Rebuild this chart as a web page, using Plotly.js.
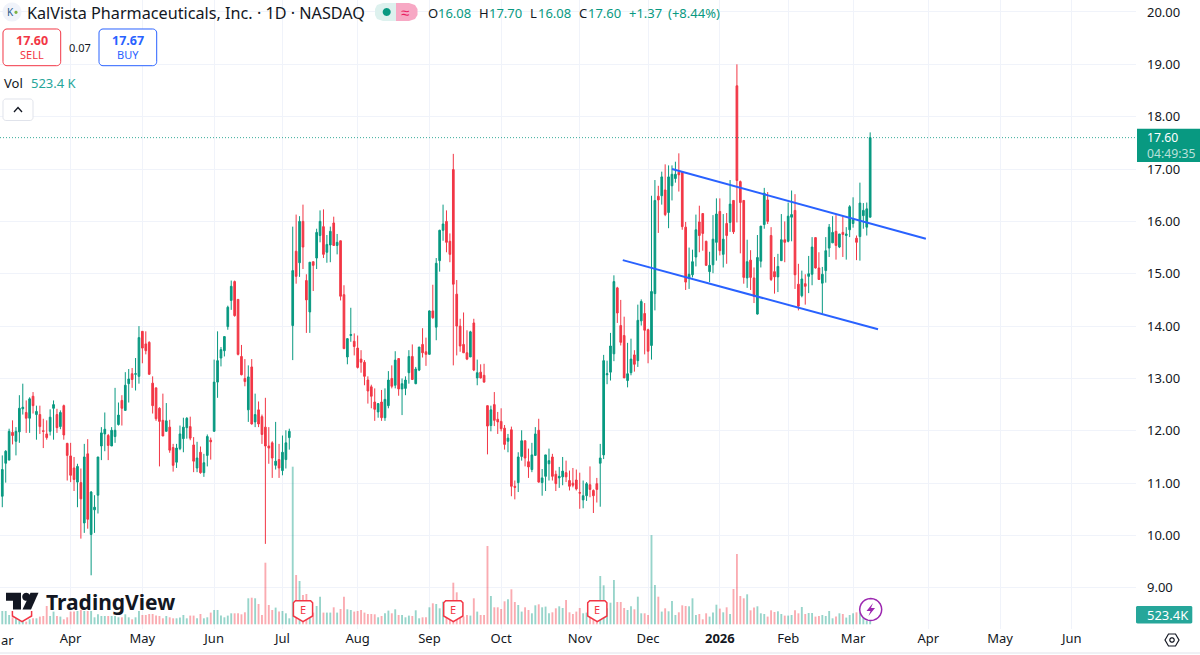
<!DOCTYPE html>
<html><head><meta charset="utf-8">
<script src="https://cdn.plot.ly/plotly-3.0.1.min.js"></script>
<style>html,body{margin:0;padding:0;background:#fff}#c{width:1200px;height:655px}</style>
</head><body><div id="c"></div>
<script>
const openP=[10.75,11.38,11.44,11.97,11.80,11.98,12.42,12.35,12.24,12.66,
12.31,12.31,12.00,11.94,11.99,12.43,12.31,12.08,12.48,11.76,
11.52,11.29,11.02,11.01,10.24,11.56,10.02,10.49,10.77,11.71,
11.94,11.91,11.71,11.89,12.12,12.58,12.39,12.90,13.09,13.08,
13.04,13.90,13.66,13.69,12.91,12.82,12.43,12.20,11.99,12.07,
11.68,11.40,11.66,11.85,12.06,12.08,11.73,11.29,11.59,11.20,
11.53,11.82,11.99,12.93,13.39,13.53,13.99,14.49,14.85,14.51,
13.42,13.00,12.40,13.22,12.17,12.40,12.27,12.07,11.71,11.77,
11.34,11.45,11.24,11.45,11.87,14.01,15.43,15.21,16.00,14.87,
14.27,15.23,15.30,15.73,15.90,15.41,15.55,15.97,15.54,15.63,
14.60,13.41,13.82,13.71,13.58,13.37,13.31,12.97,12.84,12.55,
12.36,12.55,12.25,12.48,13.00,12.87,13.38,12.80,12.81,13.11,
13.42,12.90,13.16,13.65,13.51,13.46,14.29,13.98,15.25,15.83,
16.00,15.62,16.99,14.61,14.00,13.65,13.49,13.41,14.06,13.01,
13.12,13.06,12.48,12.10,12.50,12.22,12.18,12.05,11.80,12.02,
10.94,11.01,11.51,11.81,11.41,11.26,11.53,12.01,11.01,11.13,
11.37,11.50,11.17,11.10,11.12,11.20,11.05,11.00,11.06,10.82,
10.68,10.76,10.97,10.86,10.99,11.38,11.54,13.07,13.12,13.47,
14.73,14.01,13.82,12.96,13.11,13.45,13.34,14.10,14.24,13.93,
13.63,14.62,16.48,16.49,16.60,16.17,16.68,16.82,16.94,16.94,
15.89,14.92,14.98,15.32,15.99,16.15,15.62,15.04,15.17,15.60,
16.19,15.37,15.96,15.98,16.40,18.59,16.76,16.40,14.92,15.26,
14.92,14.23,15.24,15.94,16.41,15.73,15.04,14.94,15.25,15.65,
15.62,16.08,16.21,14.80,14.58,14.81,14.95,14.99,15.69,15.11,
14.82,15.06,15.49,15.59,15.81,15.51,15.79,15.73,15.84,15.96,
15.68,15.71,16.11,15.89,16.08];
const highP=[11.53,11.63,12.04,12.20,12.07,12.68,12.90,12.58,12.64,12.74,
12.48,12.48,12.23,12.20,12.41,12.58,12.42,12.39,12.50,11.77,
11.77,11.50,11.37,11.28,11.75,11.84,10.85,10.77,11.50,12.07,
12.35,11.94,12.07,12.82,12.54,12.68,13.12,13.18,13.20,13.39,
14.00,13.90,13.90,13.71,13.04,12.82,12.45,12.71,12.53,12.21,
11.75,11.75,12.10,12.25,12.26,12.27,11.88,11.79,11.70,11.56,
11.93,11.87,13.36,13.90,13.60,13.80,14.39,14.87,14.87,14.51,
13.64,13.37,13.25,13.37,12.71,12.56,12.31,12.63,12.07,11.80,
12.17,11.75,11.91,12.01,12.04,15.90,16.13,16.10,16.32,14.99,
15.22,15.23,15.86,16.21,16.23,15.74,15.90,16.09,15.76,15.63,
14.78,13.77,14.35,13.86,13.82,13.54,13.35,13.04,12.88,12.81,
12.53,12.78,12.81,13.14,13.25,13.52,13.38,13.00,13.04,13.54,
13.65,13.22,13.60,13.96,13.78,14.30,14.79,15.30,15.84,16.32,
16.21,15.77,17.29,14.88,14.14,14.26,13.92,13.91,14.14,13.36,
13.27,13.28,12.48,12.48,12.74,12.36,12.43,12.11,11.94,12.08,
11.05,11.59,12.01,11.81,11.66,11.77,12.07,12.23,11.27,11.54,
11.66,11.56,11.24,11.31,11.50,11.43,11.24,11.29,11.26,11.20,
11.05,11.02,11.32,10.88,11.10,11.75,13.45,13.34,13.87,14.97,
14.75,14.50,14.18,13.68,13.76,13.54,14.41,14.51,14.44,13.95,
16.49,16.79,16.68,16.95,17.09,17.07,17.07,17.14,17.30,16.95,
15.99,15.50,15.46,16.13,16.30,16.15,15.63,15.42,16.12,16.44,
16.44,16.14,16.16,16.79,16.40,19.00,16.78,16.40,15.65,15.45,
15.12,15.74,15.91,16.64,16.56,15.89,15.32,15.38,16.14,16.00,
16.36,16.59,16.52,15.19,15.06,14.99,15.34,15.70,15.69,15.41,
15.13,15.70,15.95,16.10,16.12,15.76,16.09,15.89,16.31,16.46,
15.73,16.74,16.35,16.36,17.70];
const lowP=[10.54,11.01,11.44,11.74,11.53,11.77,12.31,11.96,11.96,12.33,
11.83,11.94,11.67,11.83,11.91,11.83,11.96,12.03,11.83,11.05,
11.02,10.85,10.54,9.94,10.05,10.13,9.24,10.05,10.42,11.44,
11.61,11.44,11.71,11.77,12.10,12.10,12.39,12.54,12.82,12.77,
12.90,13.29,13.46,13.07,12.33,12.19,11.32,11.90,11.99,11.58,
11.22,11.29,11.63,11.59,11.85,11.82,11.21,11.21,11.18,11.12,
11.32,11.45,11.99,12.63,13.23,13.42,13.93,14.31,14.18,13.44,
13.06,12.85,12.17,12.12,12.07,12.07,11.75,9.84,11.37,11.10,
11.26,11.10,11.15,11.28,11.64,13.35,14.81,14.94,15.09,13.87,
13.87,14.67,15.09,15.60,15.30,15.21,15.22,15.53,15.37,14.49,
13.56,13.27,13.70,13.44,13.19,13.11,12.87,12.52,12.43,12.19,
12.25,12.19,12.19,12.43,12.81,12.81,12.67,12.30,12.68,12.90,
12.97,12.89,13.14,13.40,13.24,13.46,14.14,13.73,15.04,15.63,
15.41,15.22,13.25,13.44,13.51,13.49,13.35,13.41,13.14,12.87,
13.00,12.92,11.55,11.99,12.09,11.94,11.99,11.64,11.59,10.75,
10.69,10.83,11.43,11.32,11.10,11.21,11.53,11.01,10.76,10.85,
11.05,11.05,10.85,10.91,10.96,11.02,10.86,10.92,10.86,10.51,
10.52,10.66,10.73,10.43,10.63,10.55,11.46,12.89,12.96,13.33,
14.06,13.63,13.01,12.83,13.06,13.13,13.22,14.01,13.46,13.29,
13.36,14.30,15.78,16.32,16.10,15.87,16.40,16.74,16.57,15.84,
14.69,14.71,14.93,15.14,15.41,15.44,15.16,14.84,15.01,15.25,
15.35,15.12,15.19,15.80,15.76,15.98,15.39,14.81,14.73,14.69,
14.44,14.22,15.12,15.86,15.95,14.86,14.62,14.65,15.25,15.22,
15.60,15.62,14.71,14.30,14.55,14.41,14.63,14.78,15.10,14.89,
14.24,14.83,15.32,15.59,15.27,15.49,15.32,15.27,15.70,15.88,
15.26,15.25,15.86,15.73,16.08];
const closeP=[11.26,11.61,11.99,11.91,11.99,12.43,12.45,12.24,12.61,12.48,
12.37,12.08,11.99,11.87,12.26,12.50,12.06,12.35,11.92,11.53,
11.15,11.07,11.32,10.70,11.50,10.31,10.83,10.54,11.50,11.96,
12.03,11.72,12.01,12.01,12.30,12.43,12.87,12.99,12.98,13.09,
13.78,13.58,13.53,13.08,12.48,12.23,12.18,11.90,12.19,11.63,
11.34,11.67,11.94,12.07,12.24,11.86,11.42,11.48,11.20,11.39,
11.89,11.79,12.93,13.34,13.55,13.80,14.36,14.76,14.20,13.46,
13.07,12.94,13.03,12.13,12.31,12.13,11.93,11.71,11.67,11.48,
11.42,11.29,11.59,11.77,11.99,15.06,14.95,16.00,15.51,14.50,
15.22,15.16,15.79,16.00,15.37,15.56,15.81,15.54,15.60,14.57,
13.57,13.76,13.84,13.61,13.21,13.31,13.04,12.76,12.66,12.41,
12.52,12.25,12.60,12.97,12.85,13.35,12.80,12.90,12.97,13.42,
12.98,13.18,13.60,13.49,13.46,14.29,14.16,15.20,15.83,15.95,
15.60,15.37,14.80,14.00,13.62,13.49,13.37,13.89,13.16,13.11,
13.01,12.93,12.09,12.40,12.20,12.17,12.04,11.74,11.86,10.94,
10.92,11.50,11.81,11.48,11.31,11.54,11.94,11.02,11.10,11.54,
11.43,11.13,10.99,11.13,11.23,11.12,10.94,10.96,10.89,10.81,
10.76,10.99,10.88,10.76,10.88,11.48,13.34,13.09,13.62,14.85,
14.25,13.69,13.01,13.09,13.37,13.27,14.11,14.47,13.92,13.52,
14.66,16.40,16.41,16.85,16.13,16.85,16.90,16.90,16.89,15.90,
14.84,14.99,15.23,15.84,15.73,15.77,15.16,15.16,15.66,16.14,
15.44,15.66,15.73,16.33,15.80,16.78,16.36,14.93,15.23,14.93,
14.57,15.31,15.91,16.54,16.00,14.89,14.94,15.14,15.65,15.60,
16.10,16.13,14.98,14.38,14.90,14.76,15.00,15.51,15.11,14.89,
14.99,15.44,15.89,15.79,15.54,15.76,15.75,15.76,16.28,16.03,
15.60,16.35,16.21,16.24,17.60];
const volumeK=[1330,1330,930,700,600,370,370,270,500,600,
600,770,830,1830,830,1270,830,770,500,700,
1270,1270,1330,1430,1330,1330,1330,700,1000,830,
830,830,830,830,700,700,1000,700,500,700,
1330,930,930,1030,1030,870,830,600,830,700,
600,600,670,930,600,870,870,600,1030,600,
700,1170,1430,1430,870,700,870,1100,1100,1100,
1000,1200,2600,2660,2600,2030,930,6160,1930,1430,
1670,1270,1330,1100,600,15760,4930,4330,2930,3030,
700,1170,1830,2760,1170,1170,1170,1700,1170,1530,
2760,1500,1430,1270,1330,1430,1170,1030,1030,1000,
700,830,1100,1370,1100,1500,930,930,700,870,
830,1400,600,700,700,1700,2100,2030,1600,2260,
1770,1800,4160,3200,1600,770,930,870,2600,1270,
930,930,7830,2830,1700,1700,1530,2300,2500,3500,
2230,1930,1270,1700,1430,1100,1900,2000,1700,1770,
1100,1200,1600,1800,1630,2430,1200,1030,1270,1630,
1100,1170,700,500,430,4830,3900,1600,2160,4430,
2230,2230,1630,1430,1800,1500,2760,1100,1100,930,
8920,3930,2760,1270,1600,1300,2330,930,1200,1900,
1830,1800,2600,930,1030,500,1100,770,1170,1960,
1570,1200,1700,1030,3530,7030,2830,2600,3000,1400,
1670,1800,1100,1030,770,1400,1230,1300,1030,870,
870,930,1400,1100,1730,1030,1130,1130,770,830,
930,830,1330,600,770,1100,1030,670,930,1100,
1200,1170,700,370,523.4];
const tickIndex=[20,41,62,82,104,125,146,169,189,210,230,249,271,292,313];
const tickLabels=['Apr','May','Jun','Jul','Aug','Sep','Oct','Nov','Dec','<b>2026</b>','Feb','Mar','Apr','May','Jun'];
const priceTicks=[9,10,11,12,13,14,15,16,17,18,19,20];
const priceTickLabels=['9.00','10.00','11.00','12.00','13.00','14.00','15.00','16.00','17.00','18.00','19.00','20.00'];
const upperLineX=[196,270.3], upperLineY=[17.00,15.67];
const lowerLineX=[181.6,256.3], lowerLineY=[15.26,13.94];
const lastPrice=17.60;

const GREEN='#089981',RED='#F23645',BLUE='#2962FF',INK='#131722',GRID='#F0F3FA',FONT='"Noto Sans", sans-serif';
const PW=1136,PH=629;
const fx=x=>x/PW, fy=y=>1-y/PH;
const bars=openP.map((_,i)=>i);
const volColors=bars.map(i=>closeP[i]>=openP[i]?'rgba(8,153,129,0.42)':'rgba(242,54,69,0.42)');

function P(pts,close){return pts.map((p,i)=>(i?'L':'M')+fx(p[0]).toFixed(5)+','+fy(p[1]).toFixed(5)).join(' ')+(close?' Z':'');}
function shapePath(pts,fill,line,w,close=true){return {type:'path',xref:'paper',yref:'paper',layer:'above',path:P(pts,close),fillcolor:fill||'rgba(0,0,0,0)',line:{color:line||'rgba(0,0,0,0)',width:w||0}};}
function rr(x0,y0,x1,y1,r){const pts=[];const c=[[x1-r,y0+r,-90],[x1-r,y1-r,0],[x0+r,y1-r,90],[x0+r,y0+r,180]];
 c.forEach(k=>{for(let a=0;a<=90;a+=15){const t=(k[2]+a)*Math.PI/180;pts.push([k[0]+r*Math.cos(t),k[1]+r*Math.sin(t)]);}});return pts;}
function circle(cx,cy,r){const pts=[];for(let a=0;a<360;a+=15){const t=a*Math.PI/180;pts.push([cx+r*Math.cos(t),cy+r*Math.sin(t)]);}return pts;}
function T(text,x,y,size,color,anchor='left',extra={}){return Object.assign({xref:'paper',yref:'paper',x:fx(x),y:fy(y),text,showarrow:false,xanchor:anchor,yanchor:'middle',borderpad:0,font:{family:FONT,size,color}},extra);}
function eMark(cx){const t=600.7,s=616,b=621.7,h=9.6;return shapePath([[cx-h+2,t],[cx+h-2,t],[cx+h,t+2],[cx+h,s],[cx,b],[cx-h,s],[cx-h,t+2]],'#fff',RED,1.5);}

const shapes=[
 {type:'line',xref:'paper',yref:'y',x0:0,x1:1,y0:lastPrice,y1:lastPrice,line:{color:'rgba(8,153,129,0.8)',width:1,dash:'1px,2px'},layer:'above'},
 {type:'line',xref:'paper',yref:'paper',x0:0,x1:1200/PW,y0:fy(653),y1:fy(653),line:{color:'#E0E3EB',width:1},layer:'above'},
 shapePath(circle(12,12,9.5),'#F0F3FA'),
 shapePath(circle(16,12.3,1.6),'#7CB342'),
 shapePath([[375+8,3],[396,3],[396,21],[375+8,21],[377,19],[375,15],[375,9],[377,5]],'#DDF1EE'),
 shapePath([[396,3],[409,3],[415,5],[417.5,9],[417.5,15],[415,19],[409,21],[396,21]],'#F7A8C4'),
 shapePath(circle(386.7,12,4),GREEN),
 shapePath(rr(3,29,60.7,65.7,4),'#fff',RED,1),
 shapePath(rr(99,29,156.7,65.7,4),'#fff',BLUE,1),
 shapePath(rr(3,99,33,120.5,3),'#fff','#E0E3EB',1),
 shapePath([[14,112],[18,107.5],[22,112]],null,INK,1.3,false),
 eMark(22),eMark(303),eMark(453.3),eMark(597.3),
 {type:'rect',xref:'paper',yref:'paper',layer:'above',x0:fx(4),x1:fx(42),y0:fy(590),y1:fy(611),fillcolor:'#fff',line:{width:0}},
 shapePath([[6,592.7],[21,592.7],[21,609.6],[13,609.6],[13,600.8],[6,600.8]],INK),
 shapePath(circle(26.2,596.8,4),INK),
 shapePath([[30.5,592.7],[38.5,592.7],[31,609.6],[22.5,609.6]],INK),
 shapePath(circle(870.7,609.5,11),'#fff','#9C27B0',1.5),
 shapePath([[873,603],[866.5,611],[870.5,611],[868.5,616],[875,608],[871,608]],'#9C27B0'),
 shapePath([[1137,128.7],[1200,128.7],[1200,162],[1137,162]],GREEN),
 shapePath(rr(1136,606,1192.3,623.4,1.5),'#26A69A'),
 shapePath([[1165,640],[1168.5,634],[1175.5,634],[1179,640],[1175.5,646],[1168.5,646]],null,INK,1.2),
 shapePath(circle(1172,640,2.2),null,INK,1.2)
];
const annotations=[
 T('K',10.5,12.5,10,'#2A5B8C','center',{}),
 T('KalVista Pharmaceuticals, Inc. · 1D · NASDAQ',26,13,16.2,INK),
 T('≈',405,12,15,'#E91E63','center'),
 T('O',426.5,13,13,INK),T('16.08',436.5,13,13,GREEN),
 T('H',477.5,13,13,INK),T('17.70',488,13,13,GREEN),
 T('L',529,13,13,INK),T('16.08',537,13,13,GREEN),
 T('C',577.5,13,13,INK),T('17.60',587,13,13,GREEN),
 T('+1.37',628,13,13,GREEN),T('(+8.44%)',667,13,13,GREEN),
 T('<b>17.60</b>',32,40.5,12.5,RED,'center'),T('SELL',32,55,11,RED,'center'),
 T('0.07',80,47,11,INK,'center'),
 T('<b>17.67</b>',128,40.5,12.5,BLUE,'center'),T('BUY',128,55,11,BLUE,'center'),
 T('Vol',3,83,13,INK),T('523.4 K',30,83,13,'#26A69A'),
 T('E',303,609.5,11,RED,'center'),T('E',453.3,609.5,11,RED,'center'),T('E',597.3,609.5,11,RED,'center'),
 T('<b>TradingView</b>',45,602,21,INK),
 T('17.60<br><span style="color:rgba(255,255,255,0.72)">04:49:35</span>',1146,145.5,12.2,'#fff','left',{align:'left'}),
 T('523.4K',1146,615,13,'#fff'),
 T('ar',0,639.5,13,'#131722')
];
const traces=[
 {type:'bar',x:bars,y:volumeK,yaxis:'y2',width:0.55,marker:{color:volColors,line:{width:0}},hoverinfo:'skip',showlegend:false},
 {type:'candlestick',x:bars,open:openP,high:highP,low:lowP,close:closeP,yaxis:'y',whiskerwidth:0,
  increasing:{line:{color:GREEN,width:1},fillcolor:GREEN},decreasing:{line:{color:RED,width:1},fillcolor:RED},hoverinfo:'skip',showlegend:false},
 {type:'scatter',mode:'lines',x:upperLineX,y:upperLineY,line:{color:BLUE,width:2},hoverinfo:'skip',showlegend:false},
 {type:'scatter',mode:'lines',x:lowerLineX,y:lowerLineY,line:{color:BLUE,width:2},hoverinfo:'skip',showlegend:false}
];
const layout={
 width:1200,height:655,paper_bgcolor:'#fff',plot_bgcolor:'#fff',showlegend:false,hovermode:false,dragmode:false,
 margin:{l:0,r:64,t:0,b:26,pad:0},boxgap:0.3,
 font:{family:FONT,size:13,color:INK},
 xaxis:{type:'linear',range:[-0.67,331.8],tickmode:'array',tickvals:tickIndex,ticktext:tickLabels,showgrid:true,gridcolor:GRID,gridwidth:1,zeroline:false,showline:false,ticks:'',ticklen:0,tickfont:{family:FONT,size:13,color:INK},rangeslider:{visible:false},fixedrange:true},
 yaxis:{side:'right',type:'linear',range:[8.214,20.229],tickmode:'array',tickvals:priceTicks,ticktext:priceTickLabels,showgrid:true,gridcolor:GRID,gridwidth:1,zeroline:false,showline:false,ticks:'',ticklen:0,ticklabelstandoff:10,tickfont:{family:FONT,size:13,color:INK},fixedrange:true},
 yaxis2:{overlaying:'y',side:'left',visible:false,range:[-470,62430],fixedrange:true},
 shapes,annotations
};
Plotly.newPlot('c',traces,layout,{staticPlot:true,displayModeBar:false});
</script></body></html>
